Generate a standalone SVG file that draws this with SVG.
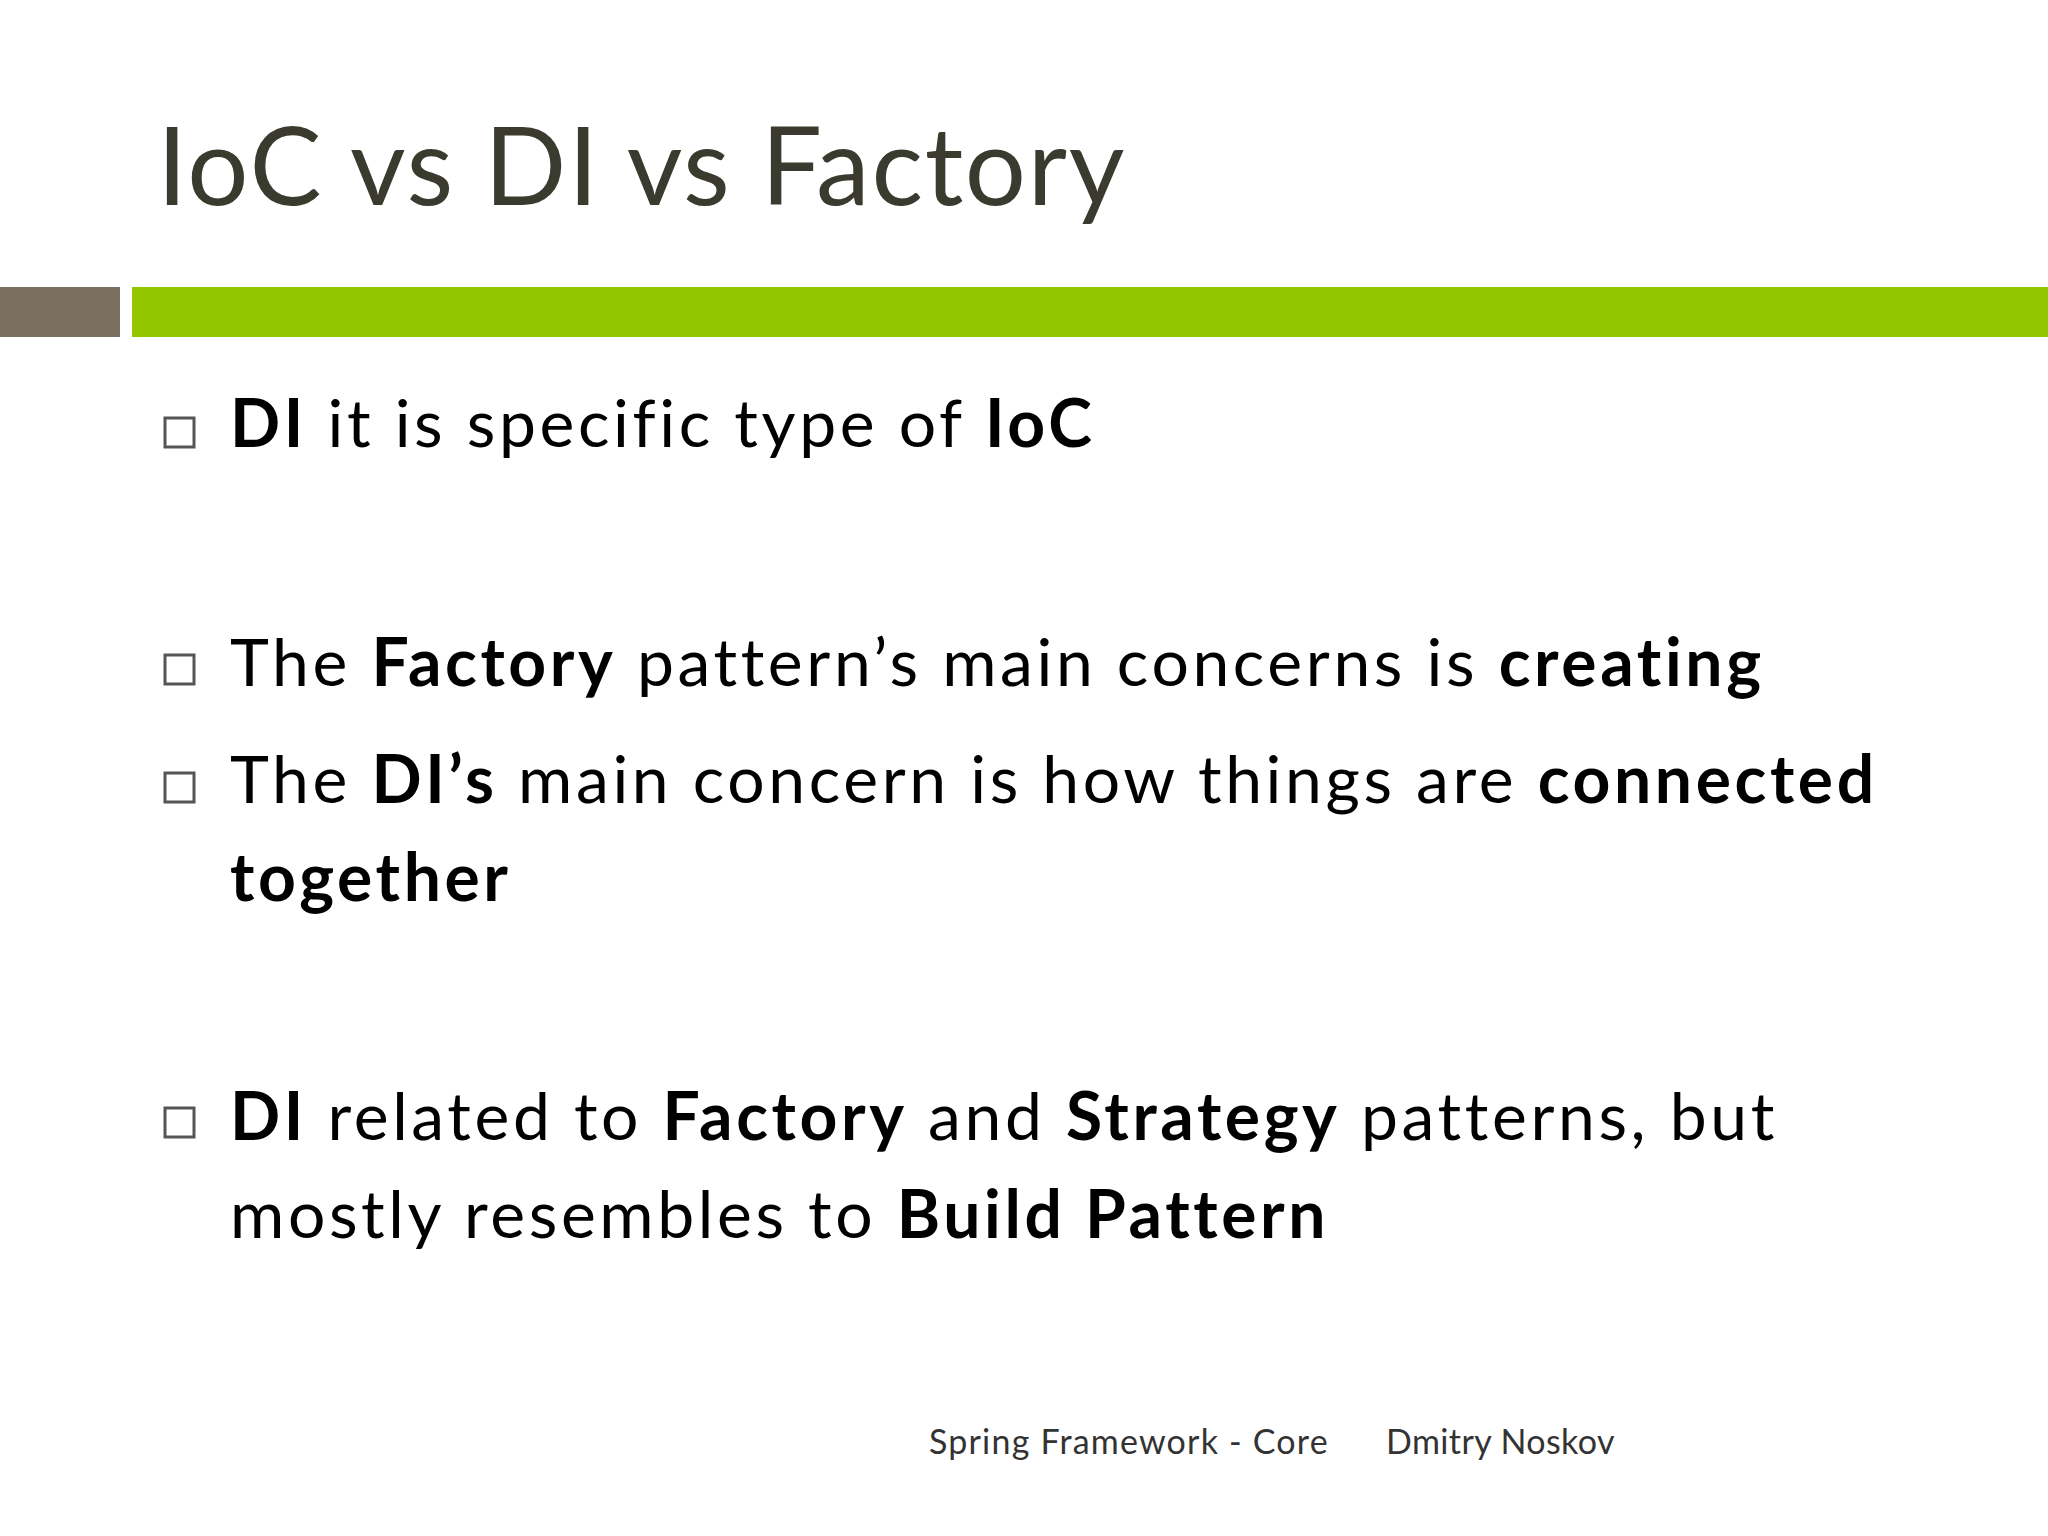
<svg xmlns="http://www.w3.org/2000/svg" width="2048" height="1536" viewBox="0 0 2048 1536">
<style>
.t{font-family:"Lato","Noto Sans",sans-serif;fill:#000;font-size:66px;letter-spacing:3.6px}
.b{font-weight:bold}
.box{fill:none;stroke:#555;stroke-width:3}
.f{font-family:"Lato","Noto Sans",sans-serif;fill:#333;font-size:34px}
</style>
<rect width="2048" height="1536" fill="#fff"/>
<g id="title"><text x="157" y="205" font-family="Lato,'Noto Sans',sans-serif" font-size="108" fill="#3a3a2e" letter-spacing="1.7">IoC vs DI vs Factory</text></g>
<g id="bars">
<rect x="0" y="287" width="120" height="50" fill="#7a7060"/>
<rect x="132" y="287" width="1916" height="50" fill="#94c600"/>
</g>
<g id="bullets">
<rect class="box" x="165" y="418" width="29" height="29"/>
<rect class="box" x="165" y="655" width="29" height="29"/>
<rect class="box" x="165" y="773" width="29" height="29"/>
<rect class="box" x="165" y="1108" width="29" height="29"/>
<text class="t" x="230" y="447"><tspan class="b">DI</tspan> it is specific type of <tspan class="b">IoC</tspan></text>
<text class="t" x="230" y="686">The <tspan class="b">Factory</tspan> pattern’s main concerns is <tspan class="b">creating</tspan></text>
<text class="t" x="230" y="803">The <tspan class="b">DI’s</tspan> main concern is how things are <tspan class="b">connected</tspan></text>
<text class="t b" x="230" y="901">together</text>
<text class="t" x="230" y="1140"><tspan class="b">DI</tspan> related to <tspan class="b">Factory</tspan> and <tspan class="b">Strategy</tspan> patterns, but</text>
<text class="t" x="230" y="1238">mostly resembles to <tspan class="b">Build Pattern</tspan></text>
</g>
<g id="footer">
<text class="f" x="929" y="1454" letter-spacing="1.2">Spring Framework - Core</text>
<text class="f" x="1386" y="1454" letter-spacing="0.4">Dmitry Noskov</text>
</g>
</svg>
